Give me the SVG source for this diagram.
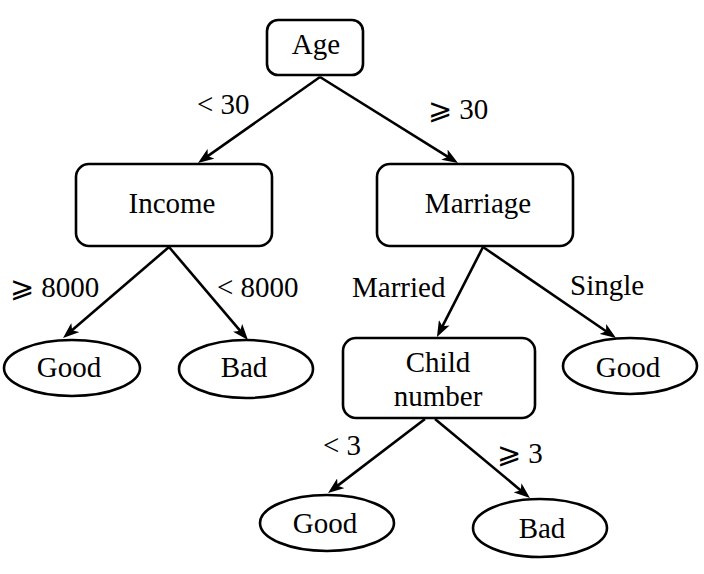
<svg xmlns="http://www.w3.org/2000/svg" width="704" height="574" viewBox="0 0 704 574">
<style>
.box{fill:#fff;stroke:#000;stroke-width:2.6}
.t{font-size:29px;fill:#000;text-anchor:middle}
.l{font-size:29px;fill:#000}
.e{stroke:#000;stroke-width:2.6;fill:none;marker-end:url(#ah)}
</style>
<defs>
<marker id="ah" viewBox="0 0 16 12" refX="8" refY="6" markerWidth="16" markerHeight="12" orient="auto" markerUnits="userSpaceOnUse">
<path d="M0,0 L16,6 L0,12 L4,6 z" fill="#000"/>
</marker>
</defs>
<rect width="704" height="574" fill="#fff"/>
<g id="connectors" font-family="'Liberation Serif', 'Times New Roman', 'DejaVu Serif', serif">
<line class="e" x1="320" y1="77" x2="204.5" y2="158.4"/>
<line class="e" x1="320" y1="77" x2="451.2" y2="158.8"/>
<line class="e" x1="169" y1="247" x2="69.1" y2="332.8"/>
<line class="e" x1="169" y1="247" x2="242.8" y2="333.9"/>
<line class="e" x1="483" y1="247" x2="440.6" y2="329.9"/>
<line class="e" x1="483" y1="247" x2="609.4" y2="333.5"/>
<line class="e" x1="425" y1="419" x2="334.4" y2="488.1"/>
<line class="e" x1="435" y1="419" x2="523.8" y2="492.9"/>
<text class="l" x="197" y="114">&lt; 30</text>
<text class="l" x="428" y="119">⩾ 30</text>
<text class="l" x="10" y="297">⩾ 8000</text>
<text class="l" x="217" y="297">&lt; 8000</text>
<text class="l" x="352" y="297">Married</text>
<text class="l" x="570" y="295">Single</text>
<text class="l" x="323" y="455">&lt; 3</text>
<text class="l" x="497" y="463">⩾ 3</text>
</g>
<g id="nodes" font-family="'Liberation Serif', 'Times New Roman', 'DejaVu Serif', serif">
<g id="age"><rect class="box" x="267" y="20" width="96" height="55" rx="11"/><text class="t" x="316" y="54">Age</text></g>
<g id="income"><rect class="box" x="76" y="164" width="196" height="82" rx="13"/><text class="t" x="172" y="213">Income</text></g>
<g id="marriage"><rect class="box" x="377" y="164" width="196" height="82" rx="13"/><text class="t" x="478" y="213">Marriage</text></g>
<g id="good1"><ellipse class="box" cx="72" cy="368" rx="68" ry="28"/><text class="t" x="69" y="377">Good</text></g>
<g id="bad1"><ellipse class="box" cx="246" cy="369" rx="67" ry="29"/><text class="t" x="244" y="377">Bad</text></g>
<g id="child"><rect class="box" x="343" y="338" width="192" height="80" rx="13"/><text class="t" x="438" y="372">Child</text><text class="t" x="438" y="406">number</text></g>
<g id="good2"><ellipse class="box" cx="630" cy="366" rx="67" ry="28"/><text class="t" x="628" y="377">Good</text></g>
<g id="good3"><ellipse class="box" cx="327" cy="523" rx="67" ry="28"/><text class="t" x="325" y="533">Good</text></g>
<g id="bad2"><ellipse class="box" cx="540" cy="528" rx="67" ry="29"/><text class="t" x="542" y="538">Bad</text></g>
</g>
</svg>
